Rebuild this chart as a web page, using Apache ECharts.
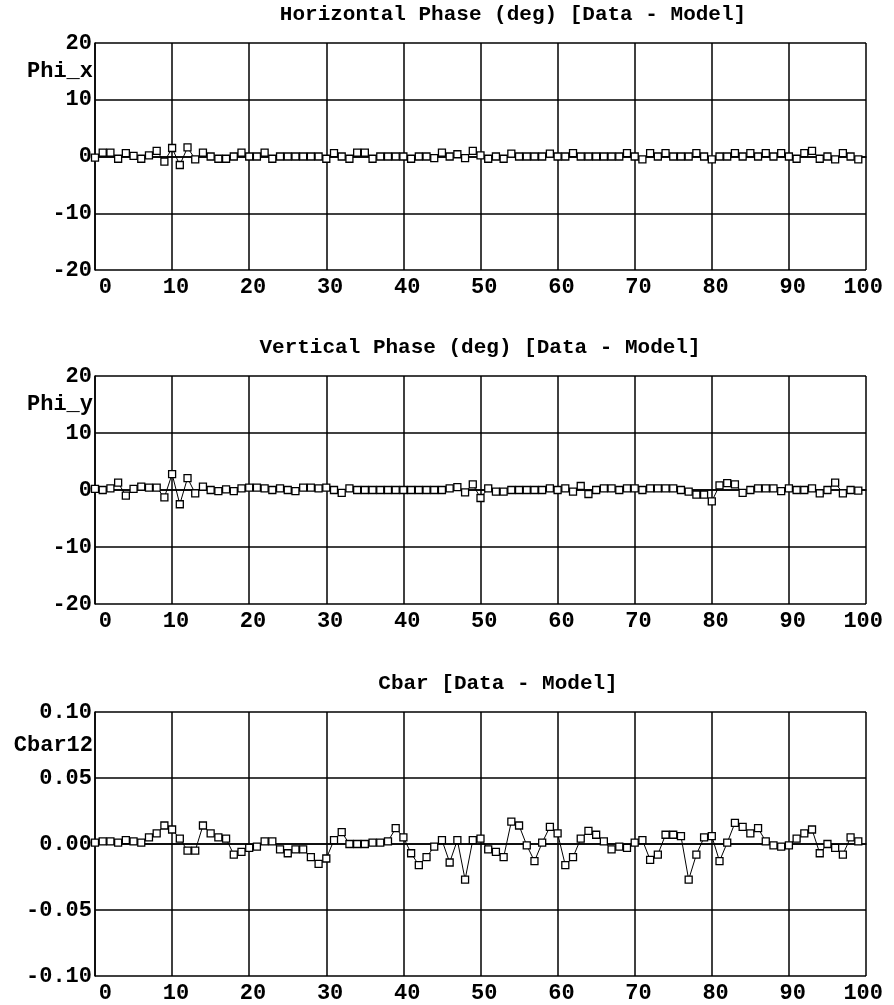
<!DOCTYPE html>
<html>
<head>
<meta charset="utf-8">
<script src="https://cdn.jsdelivr.net/npm/echarts@6/dist/echarts.min.js"></script>
<style>
  html, body { margin: 0; padding: 0; background: #fff; }
  #chart { width: 894px; height: 1005px; }
</style>
</head>
<body>
<div id="chart"></div>
<script>
// values, one point per index 0..99
var phiX = [
  -0.2, 0.7, 0.7, -0.4, 0.6, 0.1, -0.4, 0.2, 1.0, -0.9,
  1.5, -1.5, 1.6, -0.5, 0.7, 0.0, -0.4, -0.4, 0.0, 0.7,
  0.0, 0.0, 0.7, -0.4, 0.0, 0.0, 0.0, 0.0, 0.0, 0.0,
  -0.4, 0.6, 0.0, -0.4, 0.7, 0.7, -0.4, 0.0, 0.0, 0.0,
  0.0, -0.4, 0.0, 0.0, -0.3, 0.7, 0.0, 0.4, -0.3, 1.0,
  0.2, -0.4, 0.0, -0.4, 0.5, 0.0, 0.0, 0.0, 0.0, 0.5,
  0.0, 0.0, 0.6, 0.0, 0.0, 0.0, 0.0, 0.0, 0.0, 0.6,
  0.0, -0.5, 0.6, 0.0, 0.6, 0.0, 0.0, 0.0, 0.6, 0.0,
  -0.5, 0.0, 0.0, 0.6, 0.0, 0.6, 0.0, 0.6, 0.0, 0.6,
  0.0, -0.4, 0.6, 1.0, -0.4, 0.0, -0.5, 0.6, 0.0, -0.5
];
var phiY = [
  0.2, 0.0, 0.3, 1.3, -1.0, 0.2, 0.6, 0.4, 0.4, -1.3,
  2.8, -2.5, 2.1, -0.6, 0.6, 0.0, -0.2, 0.1, -0.2, 0.3,
  0.4, 0.4, 0.3, 0.0, 0.3, 0.0, -0.2, 0.4, 0.4, 0.3,
  0.4, 0.0, -0.5, 0.3, 0.0, 0.0, 0.0, 0.0, 0.0, 0.0,
  0.0, 0.0, 0.0, 0.0, 0.0, 0.0, 0.3, 0.5, -0.4, 1.0,
  -1.4, 0.3, -0.3, -0.3, 0.0, 0.0, 0.0, 0.0, 0.0, 0.3,
  0.0, 0.3, -0.3, 0.7, -0.7, 0.0, 0.3, 0.3, 0.0, 0.3,
  0.3, 0.0, 0.3, 0.3, 0.3, 0.3, 0.0, -0.3, -0.8, -0.8,
  -2.0, 0.8, 1.2, 1.0, -0.5, 0.0, 0.3, 0.3, 0.3, -0.2,
  0.3, 0.0, 0.0, 0.3, -0.6, 0.0, 1.3, -0.6, 0.0, -0.1
];
var cbar = [
  0.001, 0.002, 0.002, 0.001, 0.003, 0.002, 0.001, 0.005, 0.008, 0.014,
  0.011, 0.004, -0.005, -0.005, 0.014, 0.008, 0.005, 0.004, -0.008, -0.006,
  -0.003, -0.002, 0.002, 0.002, -0.004, -0.007, -0.004, -0.004, -0.010, -0.015,
  -0.011, 0.003, 0.009, 0.000, 0.000, 0.000, 0.001, 0.001, 0.002, 0.012,
  0.005, -0.007, -0.016, -0.010, -0.002, 0.003, -0.014, 0.003, -0.027, 0.003,
  0.004, -0.004, -0.006, -0.010, 0.017, 0.014, -0.001, -0.013, 0.001, 0.013,
  0.008, -0.016, -0.010, 0.004, 0.010, 0.007, 0.002, -0.004, -0.002, -0.003,
  0.001, 0.003, -0.012, -0.008, 0.007, 0.007, 0.006, -0.027, -0.008, 0.005,
  0.006, -0.013, 0.001, 0.016, 0.013, 0.008, 0.012, 0.002, -0.001, -0.002,
  -0.001, 0.004, 0.008, 0.011, -0.007, 0.000, -0.003, -0.008, 0.005, 0.002
];

var titles = ['Horizontal Phase (deg) [Data - Model]', 'Vertical Phase (deg) [Data - Model]', 'Cbar [Data - Model]'];
var yNames = ['Phi_x', 'Phi_y', 'Cbar12'];

var FONT = 'Liberation Mono';
var grids = [
  { left: 95, top: 43, width: 771, height: 227 },
  { left: 95, top: 376, width: 771, height: 228 },
  { left: 95, top: 712, width: 771, height: 264 }
];
var titleX = [513, 480, 498];

function pairs(arr) {
  return arr.map(function (v, i) { return [i, v]; });
}

var textStyle = { fontFamily: FONT, fontWeight: 'bold', fontSize: 22, color: '#000' };
var lineSt = { color: '#000', width: 1.5 };

var xAxes = [], yAxes = [], series = [], graphics = [];
var ranges = [[-20, 20, 10], [-20, 20, 10], [-0.1, 0.1, 0.05]];
var datas = [phiX, phiY, cbar];

for (var k = 0; k < 3; k++) {
  xAxes.push({
    gridIndex: k, type: 'value', min: 0, max: 100, interval: 10,
    axisLine: { lineStyle: lineSt },
    axisTick: { show: false },
    splitLine: { show: true, lineStyle: lineSt },
    axisLabel: Object.assign({}, textStyle, {
      margin: 10, lineHeight: 14, align: 'right', padding: [0, -17, 0, 0],
      showMinLabel: true, showMaxLabel: true
    })
  });
  yAxes.push({
    gridIndex: k, type: 'value', min: ranges[k][0], max: ranges[k][1], interval: ranges[k][2],
    axisLine: { show: true, lineStyle: lineSt },
    axisTick: { show: false },
    splitLine: { show: true, lineStyle: lineSt },
    axisLabel: Object.assign({}, textStyle, {
      margin: 3,
      formatter: k === 2 ? function (v) { return v.toFixed(2); } : null
    })
  });
  series.push({
    type: 'line', xAxisIndex: k, yAxisIndex: k,
    data: pairs(datas[k]),
    symbol: 'rect', symbolSize: 7, showAllSymbol: true,
    lineStyle: { color: '#000', width: 1 },
    itemStyle: { color: '#fff', borderColor: '#000', borderWidth: 1.3 },
    animation: false
  });
  graphics.push({
    type: 'text', x: titleX[k], y: grids[k].top - 28,
    style: { text: titles[k], textAlign: 'center', textVerticalAlign: 'middle', font: 'bold 21px ' + FONT, fill: '#000' }
  });
  graphics.push({
    type: 'text', x: 93, y: grids[k].top + grids[k].height / 8,
    style: { text: yNames[k], textAlign: 'right', textVerticalAlign: 'middle', font: 'bold 22px ' + FONT, fill: '#000' }
  });
}

var myChart = echarts.init(document.getElementById('chart'));
myChart.setOption({
  animation: false,
  backgroundColor: '#fff',
  grid: grids,
  xAxis: xAxes,
  yAxis: yAxes,
  series: series,
  graphic: graphics
});
</script>
</body>
</html>
